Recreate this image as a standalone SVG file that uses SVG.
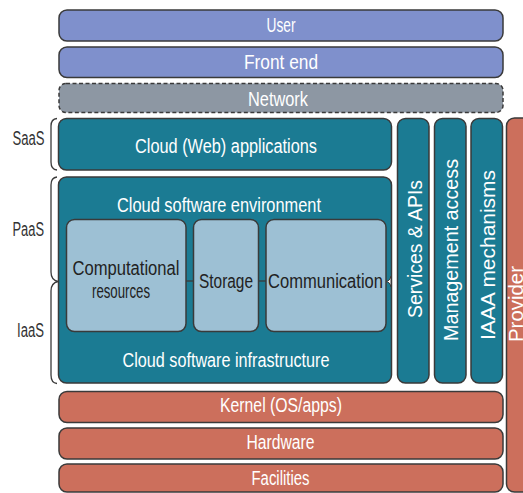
<svg xmlns="http://www.w3.org/2000/svg" width="523" height="493" viewBox="0 0 523 493">
<defs>
<style>
.box{stroke:#3a3a3a;stroke-width:1.5}
.blue{fill:#7f90cc}
.net{fill:#8d97a3;stroke-dasharray:4 2.5}
.teal{fill:#1b7b93}
.light{fill:#9dc0d4}
.red{fill:#cc6f5c}
text{font-family:"Liberation Sans",Arial,sans-serif;font-size:19.5px}
.w{fill:#ffffff}
.d{fill:#222222}
.lbl{fill:#333333}
.br{fill:none;stroke:#3a3a3a;stroke-width:1.3}
.cn{fill:none;stroke:#3a3a3a;stroke-width:1.3}
</style>
</defs>
<rect width="523" height="493" fill="#ffffff"/>

<g id="provider">
<rect class="box red" x="506.5" y="118" width="40" height="374" rx="8"/>
<text class="w" transform="translate(522.5,342) rotate(-90)" textLength="76" lengthAdjust="spacingAndGlyphs">Provider</text>
</g>

<g id="user">
<rect class="box blue" x="59" y="10" width="444" height="31" rx="8"/>
<text class="w" x="281" y="32" text-anchor="middle" textLength="29" lengthAdjust="spacingAndGlyphs">User</text>
</g>
<g id="frontend">
<rect class="box blue" x="59" y="47" width="444" height="30.5" rx="8"/>
<text class="w" x="281" y="68.5" text-anchor="middle" textLength="74" lengthAdjust="spacingAndGlyphs">Front  end</text>
</g>
<g id="network">
<rect class="box net" x="59" y="83.5" width="444" height="29" rx="7"/>
<text class="w" x="278" y="106" text-anchor="middle" textLength="60" lengthAdjust="spacingAndGlyphs">Network</text>
</g>

<g id="saas-apps">
<rect class="box teal" x="58.5" y="118.5" width="333" height="51.5" rx="8"/>
<text class="w" x="226" y="153" text-anchor="middle" textLength="182" lengthAdjust="spacingAndGlyphs">Cloud (Web) applications</text>
</g>

<g id="cloud-software">
<rect class="box teal" x="58.5" y="177" width="333" height="206" rx="8"/>
<text class="w" x="219" y="212" text-anchor="middle" textLength="204" lengthAdjust="spacingAndGlyphs">Cloud software environment</text>
<text class="w" x="226" y="366.5" text-anchor="middle" textLength="207" lengthAdjust="spacingAndGlyphs">Cloud software infrastructure</text>
</g>

<g id="computational">
<rect class="box light" x="66.5" y="219.5" width="119.5" height="112" rx="8"/>
<text class="d" x="126" y="275" text-anchor="middle" textLength="107" lengthAdjust="spacingAndGlyphs">Computational</text>
<text class="d" x="121" y="298" text-anchor="middle" textLength="58" lengthAdjust="spacingAndGlyphs">resources</text>
</g>
<g id="storage">
<rect class="box light" x="193.5" y="219.5" width="65" height="112" rx="8"/>
<text class="d" x="226" y="287.5" text-anchor="middle" textLength="54" lengthAdjust="spacingAndGlyphs">Storage</text>
</g>
<g id="communication">
<rect class="box light" x="266" y="219.5" width="120" height="112" rx="8"/>
<text class="d" x="325.5" y="287.5" text-anchor="middle" textLength="115" lengthAdjust="spacingAndGlyphs">Communication</text>
</g>

<g id="services">
<rect class="box teal" x="397.5" y="118.5" width="31.5" height="264.5" rx="8"/>
<text class="w" transform="translate(421.5,318) rotate(-90)" textLength="138" lengthAdjust="spacingAndGlyphs">Services &amp; APIs</text>
</g>
<g id="management">
<rect class="box teal" x="434.5" y="118.5" width="31.5" height="264.5" rx="8"/>
<text class="w" transform="translate(458,341) rotate(-90)" textLength="182" lengthAdjust="spacingAndGlyphs">Management access</text>
</g>
<g id="iaaa">
<rect class="box teal" x="471" y="118.5" width="31.5" height="264.5" rx="8"/>
<text class="w" transform="translate(495,340) rotate(-90)" textLength="170" lengthAdjust="spacingAndGlyphs">IAAA mechanisms</text>
</g>

<g id="kernel">
<rect class="box red" x="59" y="391.5" width="444" height="31" rx="8"/>
<text class="w" x="281" y="411.5" text-anchor="middle" textLength="122" lengthAdjust="spacingAndGlyphs">Kernel (OS/apps)</text>
</g>
<g id="hardware">
<rect class="box red" x="59" y="428" width="444" height="31" rx="8"/>
<text class="w" x="280.5" y="448.5" text-anchor="middle" textLength="68" lengthAdjust="spacingAndGlyphs">Hardware</text>
</g>
<g id="facilities">
<rect class="box red" x="59" y="464" width="444" height="28" rx="8"/>
<text class="w" x="280.5" y="484.5" text-anchor="middle" textLength="58" lengthAdjust="spacingAndGlyphs">Facilities</text>
</g>

<g id="layer-labels">
<text class="lbl" x="12.5" y="144.5" textLength="32" lengthAdjust="spacingAndGlyphs">SaaS</text>
<text class="lbl" x="12.5" y="236" textLength="31.5" lengthAdjust="spacingAndGlyphs">PaaS</text>
<text class="lbl" x="17" y="337" textLength="27" lengthAdjust="spacingAndGlyphs">IaaS</text>
</g>

<g id="connectors">
<path class="br" d="M57,118.5 Q51,119 51,126 L51,162 Q51,169.5 57,170"/>
<path class="br" d="M57,177 Q51,177.5 51,185 L51,272 Q51,280 58,281.5 Q51,283 51,291 L51,375 Q51,383 57,383.5"/>
<line class="cn" x1="186" y1="281" x2="193.5" y2="281"/>
<line class="cn" x1="258.5" y1="281" x2="266" y2="281"/>
<path d="M391,276 Q390,281 386,281.5 Q390,282 391,287 Z" fill="#ffffff" stroke="#3a3a3a" stroke-width="1"/>
</g>
</svg>
